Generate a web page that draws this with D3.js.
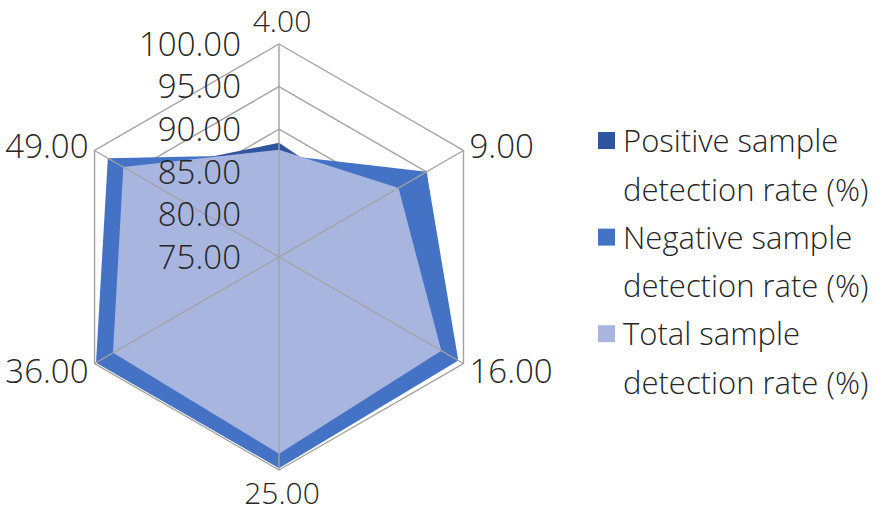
<!DOCTYPE html>
<html>
<head>
<meta charset="utf-8">
<script src="https://cdn.jsdelivr.net/npm/d3@7"></script>
<style>
  body { margin: 0; background: #fff; }
  text { font-family: "Open Sans", "Noto Sans", sans-serif; font-weight: 300; fill: #262626; }
</style>
</head>
<body>
<div class="chart"></div>
<script>
// Radar chart: detection rates (%) by category

var categories = ["4.00", "9.00", "16.00", "25.00", "36.00", "49.00"];
var positiveRate = [88.4, 87.4, 93.0, 95.0, 95.0, 94.8];
var negativeRate = [87.0, 95.0, 99.3, 99.8, 99.8, 98.2];
var totalRate = [87.6, 91.2, 97.0, 98.1, 97.5, 96.1];
var tickValues = [75, 80, 85, 90, 95, 100];
var seriesNames = [
  ["Positive sample", "detection rate (%)"],
  ["Negative sample", "detection rate (%)"],
  ["Total sample", "detection rate (%)"]
];
var seriesColors = ["#2f559f", "#4472c4", "#a7b5df"];

var svgWidth = 894;
var svgHeight = 513;
var cx = 279;
var cy = 257;
var radius = 213;

var svg = d3
  .select(".chart")
  .append("svg")
  .attr("width", svgWidth)
  .attr("height", svgHeight);

var chartGroup = svg.append("g")
  .attr("transform", `translate(${cx}, ${cy})`);

// radial value scale and angle scale
var rScale = d3.scaleLinear()
  .domain([75, 100])
  .range([0, radius]);

var angleScale = d3.scaleLinear()
  .domain([0, categories.length])
  .range([0, 2 * Math.PI]);

function point(i, v) {
  var a = angleScale(i);
  return [rScale(v) * Math.sin(a), -rScale(v) * Math.cos(a)];
}

var radarLine = d3.lineRadial()
  .angle((d, i) => angleScale(i))
  .radius(d => rScale(d))
  .curve(d3.curveLinearClosed);

// rings (under the series)
chartGroup.selectAll(".ring")
  .data(tickValues.slice(1))
  .enter()
  .append("path")
  .attr("class", "ring")
  .attr("d", v => radarLine(categories.map(() => v)))
  .attr("fill", "none")
  .attr("stroke", "#a3a3a3")
  .attr("stroke-width", 1.4);

// series polygons, first series at the bottom
var allSeries = [positiveRate, negativeRate, totalRate];
chartGroup.selectAll(".series")
  .data(allSeries)
  .enter()
  .append("path")
  .attr("class", "series")
  .attr("d", d => radarLine(d))
  .attr("fill", (d, i) => seriesColors[i]);

// spokes on top of fills
chartGroup.selectAll(".spoke")
  .data(categories)
  .enter()
  .append("line")
  .attr("class", "spoke")
  .attr("x1", 0)
  .attr("y1", 0)
  .attr("x2", (d, i) => point(i, 100)[0])
  .attr("y2", (d, i) => point(i, 100)[1])
  .attr("stroke", "#a3a3a3")
  .attr("stroke-width", 1.4);

// radial tick labels
chartGroup.selectAll(".tick-label")
  .data(tickValues)
  .enter()
  .append("text")
  .attr("class", "tick-label")
  .attr("x", -38)
  .attr("y", d => -rScale(d))
  .attr("dy", "0.36em")
  .attr("text-anchor", "end")
  .style("font-size", "33px")
  .text(d => d3.format(".2f")(d));

// category labels around the outer ring
chartGroup.selectAll(".cat-label")
  .data(categories)
  .enter()
  .append("text")
  .attr("class", "cat-label")
  .attr("x", (d, i) => {
    var p = point(i, 100);
    if (Math.abs(p[0]) < 1) return p[0] + 3;
    return p[0] > 0 ? p[0] + 6 : p[0] - 6;
  })
  .attr("y", (d, i) => {
    var p = point(i, 100);
    if (Math.abs(p[0]) < 1) return p[1] < 0 ? p[1] - 12 : p[1] + 34;
    return p[1] < 0 ? p[1] + 7 : p[1] + 19;
  })
  .attr("text-anchor", (d, i) => {
    var p = point(i, 100);
    if (Math.abs(p[0]) < 1) return "middle";
    return p[0] > 0 ? "start" : "end";
  })
  .style("font-size", (d, i) => (i % 3 === 0) ? "30px" : "33px")
  .text(d => d);

// legend
var legendGroup = svg.append("g")
  .attr("transform", "translate(598, 132)");

var legendItems = legendGroup.selectAll(".legend-item")
  .data(seriesNames)
  .enter()
  .append("g")
  .attr("class", "legend-item")
  .attr("transform", (d, i) => `translate(0, ${i * 96.6})`);

legendItems.append("rect")
  .attr("width", 17)
  .attr("height", 17)
  .attr("fill", (d, i) => seriesColors[i]);

legendItems.append("text")
  .attr("x", 25)
  .attr("y", 20)
  .style("font-size", "31px")
  .selectAll("tspan")
  .data(d => d)
  .enter()
  .append("tspan")
  .attr("x", 25)
  .attr("dy", (d, i) => i === 0 ? 0 : 48.5)
  .text(d => d);
</script>
</body>
</html>
